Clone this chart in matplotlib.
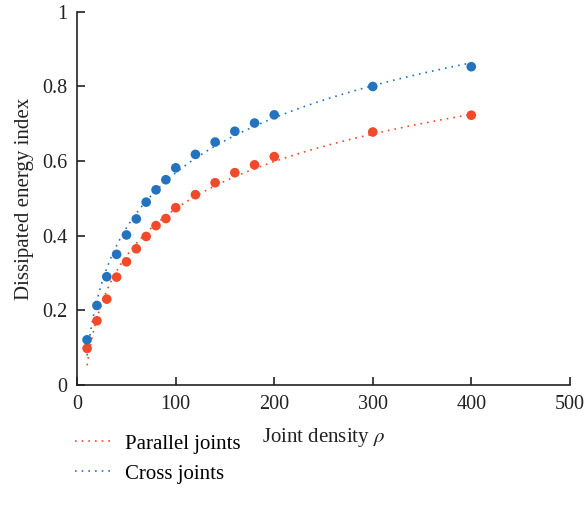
import numpy as np
import matplotlib.pyplot as plt

# Joint density values
rho = [10, 20, 30, 40, 50, 60, 70, 80, 90, 100, 120, 140, 160, 180, 200, 300, 400]

# Dissipated energy index
parallel = [0.098, 0.172, 0.230, 0.289, 0.330, 0.365, 0.398, 0.427, 0.446, 0.475,
            0.510, 0.542, 0.569, 0.590, 0.612, 0.678, 0.723]
cross = [0.121, 0.213, 0.290, 0.350, 0.402, 0.445, 0.490, 0.523, 0.550, 0.582,
         0.618, 0.651, 0.680, 0.702, 0.724, 0.800, 0.853]

red = "#f04a2a"
blue = "#2473be"

plt.rcParams['font.family'] = ['Liberation Serif', 'DejaVu Serif']
plt.rcParams['mathtext.fontset'] = 'stix'

fig = plt.figure(figsize=(5.85, 5.16), dpi=100)
ax = fig.add_axes([0.132, 0.254, 0.842, 0.723])

x = np.array(rho, dtype=float)
xf = np.linspace(10, 400, 300)

# logarithmic trend lines fitted to the points
for y, c, lab in [(parallel, red, "Parallel joints"), (cross, blue, "Cross joints")]:
    a, b = np.polyfit(np.log(x), np.array(y), 1)
    ax.plot(xf, a * np.log(xf) + b, ls=(0, (1, 3)), lw=1.2, color=c, label=lab)

ax.scatter(rho, parallel, s=48, color=red, zorder=3, edgecolors='none')
ax.scatter(rho, cross, s=48, color=blue, zorder=3, edgecolors='none')

ax.set_xlim(0, 500)
ax.set_ylim(0, 1)
ax.set_xticks([0, 100, 200, 300, 400, 500])
ax.set_yticks([0, 0.2, 0.4, 0.6, 0.8, 1])
ax.set_yticklabels(["0", "0.2", "0.4", "0.6", "0.8", "1"])
ax.tick_params(direction='in', length=6, width=1.2, labelsize=14.5, colors='#222222', pad=7)
ax.spines['top'].set_visible(False)
ax.spines['right'].set_visible(False)
for s in ['left', 'bottom']:
    ax.spines[s].set_linewidth(1.2)
    ax.spines[s].set_color('#222222')

ax.set_xlabel(r"Joint density $\rho$", fontsize=15, color='#222222', labelpad=9)
ax.set_ylabel("Dissipated energy index", fontsize=15, color='#222222', labelpad=6)

fig.legend(loc='upper left', bbox_to_anchor=(0.097, 0.195), frameon=False,
           fontsize=15, handlelength=1.7, handletextpad=0.7, labelspacing=0.5)

fig.savefig("out.png", dpi=100)
